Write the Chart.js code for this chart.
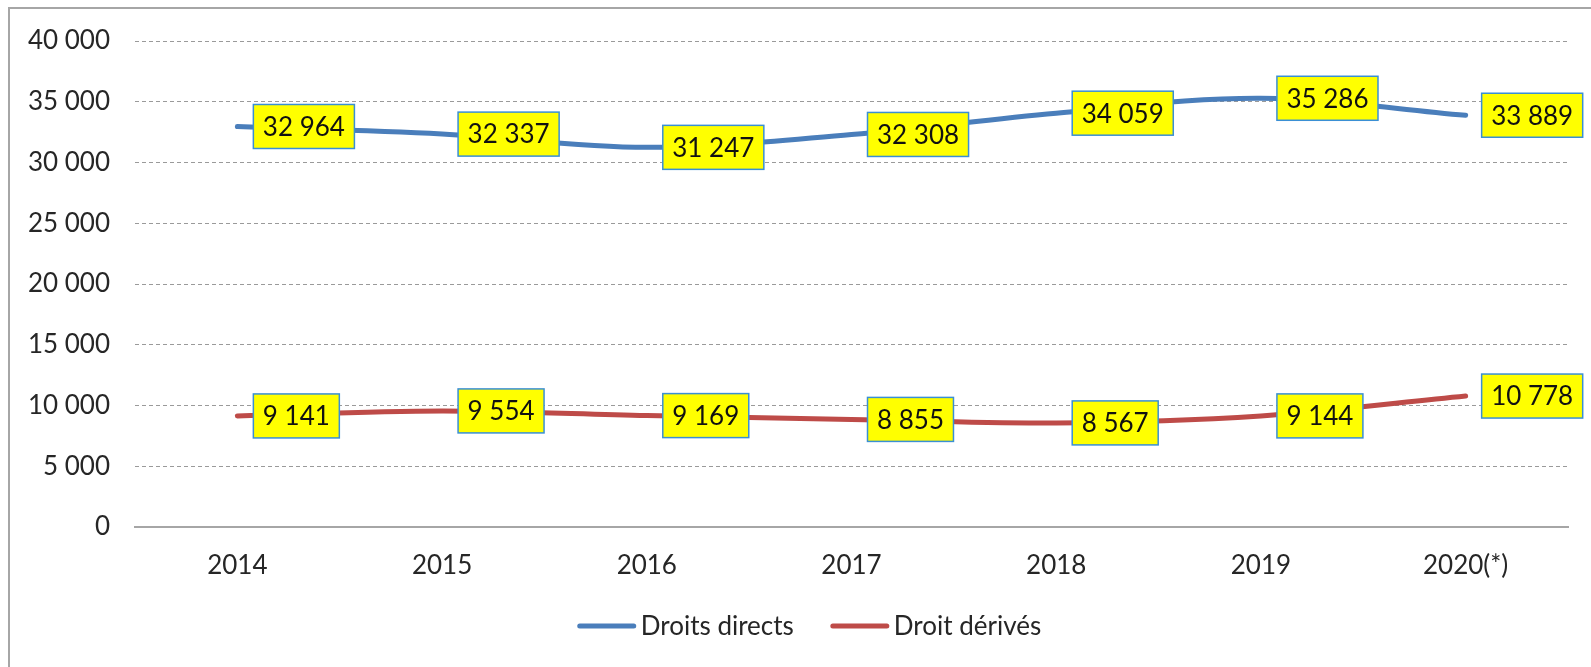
<!DOCTYPE html>
<html>
<head>
<meta charset="utf-8">
<script src="https://cdn.jsdelivr.net/npm/chart.js@4/dist/chart.umd.min.js"></script>
<style>
  body { margin: 0; background: #fff; overflow: hidden; }
  #wrap { position: relative; width: 1591px; height: 667px; }
</style>
</head>
<body>
<div id="wrap"><canvas id="chart" width="1591" height="667"></canvas></div>
<script>
const years = ["2014", "2015", "2016", "2017", "2018", "2019", "2020(*)"];
const droitsDirects = [32964, 32337, 31247, 32308, 34059, 35286, 33889];
const droitDerives = [9141, 9554, 9169, 8855, 8567, 9144, 10778];
const yTicks = [0, 5000, 10000, 15000, 20000, 25000, 30000, 35000, 40000];

const FONT = "Lato, 'Open Sans', sans-serif";
const TEXT = "#262626";

function fmt(v) {
  return String(v).replace(/\B(?=(\d{3})+(?!\d))/g, " ");
}

const framePlugin = {
  id: "frame",
  beforeDraw(chart) {
    const ctx = chart.ctx;
    ctx.save();
    ctx.fillStyle = "#fff";
    ctx.fillRect(0, 0, chart.width, chart.height);
    ctx.strokeStyle = "#a6a6a6";
    ctx.lineWidth = 2;
    ctx.strokeRect(9, 8, chart.width + 20, chart.height + 20);
    ctx.restore();
  }
};

const labelPlugin = {
  id: "boxLabels",
  afterDatasetsDraw(chart) {
    const ctx = chart.ctx;
    ctx.save();
    ctx.font = "26px " + FONT;
    ctx.textBaseline = "middle";
    ctx.textAlign = "center";
    chart.data.datasets.forEach((ds, i) => {
      chart.getDatasetMeta(i).data.forEach((pt, j) => {
        const txt = fmt(ds.data[j]);
        const w = ctx.measureText(txt).width + 19;
        const h = 44;
        const x = pt.x + 16;
        const y = pt.y - h / 2;
        ctx.fillStyle = "#ffff00";
        ctx.fillRect(x, y, w, h);
        ctx.strokeStyle = "#3a8fd4";
        ctx.lineWidth = 1.5;
        ctx.strokeRect(x, y, w, h);
        ctx.fillStyle = "#111";
        ctx.fillText(txt, x + w / 2, pt.y + 1);
      });
    });
    ctx.restore();
  }
};

// legend drawn by hand: Excel puts the text right next to the line sample
const legendPlugin = {
  id: "excelLegend",
  afterDraw(chart) {
    const ctx = chart.ctx;
    const sample = 58, gap = 5, spacing = 37;
    const y = chart.chartArea.bottom + 99;
    ctx.save();
    ctx.font = "26px " + FONT;
    ctx.textBaseline = "middle";
    ctx.textAlign = "left";
    const items = chart.data.datasets.map(ds => ({
      text: ds.label, color: ds.borderColor, w: ctx.measureText(ds.label).width
    }));
    const total = items.reduce((s, it) => s + sample + gap + it.w, 0) + spacing * (items.length - 1);
    let x = (chart.chartArea.left + chart.chartArea.right) / 2 - total / 2 - 42;
    x = Math.max(x, 0);
    items.forEach(it => {
      ctx.strokeStyle = it.color;
      ctx.lineWidth = 5;
      ctx.lineCap = "round";
      ctx.beginPath();
      ctx.moveTo(x + 2, y);
      ctx.lineTo(x + sample - 2, y);
      ctx.stroke();
      ctx.fillStyle = TEXT;
      ctx.fillText(it.text, x + sample + gap, y + 1);
      x += sample + gap + it.w + spacing;
    });
    ctx.restore();
  }
};

new Chart(document.getElementById("chart"), {
  type: "line",
  data: {
    labels: years,
    datasets: [
      { label: "Droits directs", data: droitsDirects, borderColor: "#4a7ebb", backgroundColor: "#4a7ebb",
        borderWidth: 5, pointRadius: 0, tension: 0.35, borderCapStyle: "round" },
      { label: "Droit dérivés", data: droitDerives, borderColor: "#be4b48", backgroundColor: "#be4b48",
        borderWidth: 5, pointRadius: 0, tension: 0.35, borderCapStyle: "round" }
    ]
  },
  options: {
    responsive: false,
    animation: false,
    layout: { padding: { top: 41, right: 23, left: 0, bottom: 84 } },
    plugins: {
      tooltip: { enabled: false },
      legend: { display: false }
    },
    scales: {
      x: {
        offset: true,
        grid: { display: false, drawTicks: false },
        border: { display: true, color: "#a6a6a6", width: 2 },
        ticks: { color: TEXT, padding: 23, font: { family: FONT, size: 26 } },
        afterFit: s => { s.height = 56; }
      },
      y: {
        min: 0,
        max: 40000,
        afterBuildTicks: s => { s.ticks = yTicks.map(v => ({ value: v })); },
        grid: { color: "#9a9a9a", lineWidth: 1, drawTicks: false },
        border: { display: false, dash: [4, 3] },
        ticks: { color: TEXT, padding: 25, font: { family: FONT, size: 26 }, callback: v => fmt(v) },
        afterFit: s => { s.width = 135; }
      }
    }
  },
  plugins: [framePlugin, labelPlugin, legendPlugin]
});
</script>
</body>
</html>
